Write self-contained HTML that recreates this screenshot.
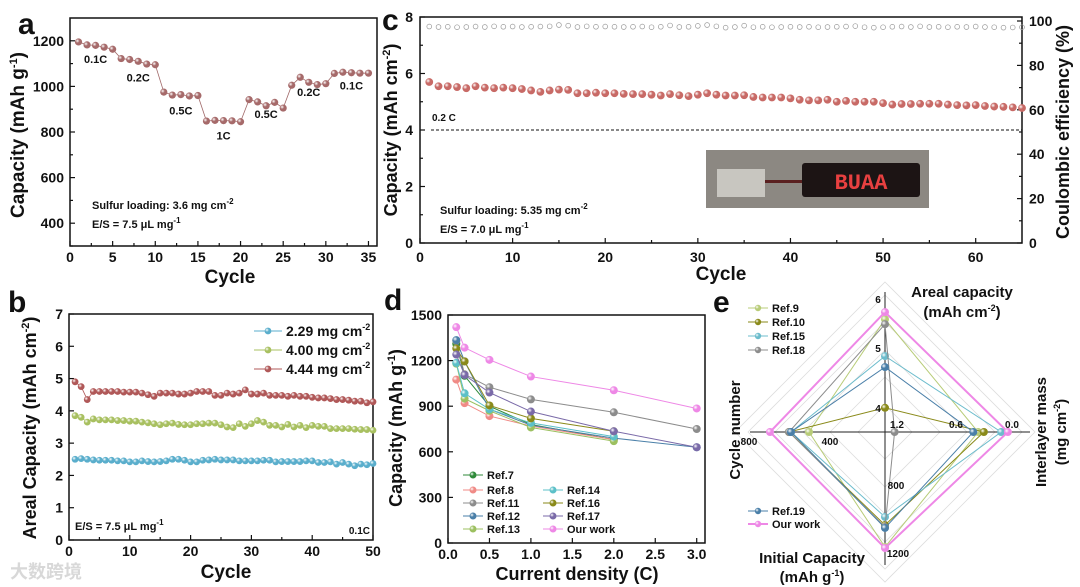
<!DOCTYPE html>
<html><head><meta charset="utf-8"><style>
body{margin:0;background:#fff}
svg{display:block;font-family:"Liberation Sans",Arial,sans-serif;font-weight:bold}
</style></head><body>
<svg id="fig" width="1080" height="587" viewBox="0 0 1080 587" xmlns="http://www.w3.org/2000/svg">
<defs></defs>
</svg>
<script>
var svgNS="http://www.w3.org/2000/svg";
var fig=document.getElementById('fig');
function mk(tag,attrs,parent){var e=document.createElementNS(svgNS,tag);for(var k in attrs)e.setAttribute(k,attrs[k]);(parent||fig).appendChild(e);return e;}
function txt(x,y,s,size,anchor,parent,rot){var t=mk('text',{x:x,y:y,'font-size':size,'text-anchor':anchor||'middle',fill:'#111'},parent);if(rot)t.setAttribute('transform','rotate('+rot+' '+x+' '+y+')');t.innerHTML=s;return t;}
var gradCount=0;
function grad(col){var id='g'+(gradCount++);var d=fig.querySelector('defs');var g=mk('radialGradient',{id:id,cx:'35%',cy:'35%',r:'65%'},d);mk('stop',{offset:'0','stop-color':'#ffffff'},g);mk('stop',{offset:'0.45','stop-color':col},g);mk('stop',{offset:'1','stop-color':col},g);return 'url(#'+id+')';}

/* ===== Panel a data ===== */
var aCycles=[];for(var i=1;i<=35;i++)aCycles.push(i);
var aCap=[1195,1182,1180,1172,1163,1122,1118,1110,1098,1095,975,962,964,958,960,848,851,850,849,845,942,932,915,930,905,1005,1040,1018,1008,1012,1057,1062,1060,1058,1058];
var aXTicks=[0,5,10,15,20,25,30,35];
var aYTicks=[400,600,800,1000,1200];
var aRates=['0.1C','0.2C','0.5C','1C','0.5C','0.2C','0.1C'];
var aRateCycle=[3,8,13,18,23,28,33];
var aRateCap=[1120,1040,895,785,880,975,1005];

/* ===== Panel b data ===== */
var bRed=[4.9,4.75,4.35,4.6,4.6,4.6,4.6,4.6,4.58,4.58,4.58,4.55,4.5,4.45,4.55,4.55,4.55,4.52,4.52,4.55,4.6,4.6,4.6,4.48,4.48,4.55,4.52,4.55,4.65,4.52,4.52,4.55,4.48,4.48,4.48,4.45,4.48,4.45,4.45,4.42,4.4,4.4,4.38,4.35,4.35,4.33,4.3,4.3,4.25,4.28];
var bGreen=[3.85,3.8,3.65,3.75,3.72,3.72,3.72,3.7,3.7,3.68,3.68,3.65,3.63,3.6,3.57,3.6,3.62,3.58,3.57,3.57,3.6,3.6,3.62,3.62,3.57,3.5,3.48,3.6,3.52,3.6,3.7,3.65,3.55,3.55,3.5,3.58,3.5,3.55,3.48,3.55,3.52,3.52,3.45,3.45,3.45,3.45,3.43,3.42,3.42,3.4];
var bBlue=[2.5,2.52,2.5,2.48,2.47,2.47,2.47,2.45,2.45,2.42,2.42,2.45,2.43,2.42,2.43,2.45,2.5,2.5,2.47,2.42,2.42,2.47,2.48,2.5,2.48,2.48,2.48,2.45,2.45,2.45,2.45,2.47,2.47,2.42,2.43,2.43,2.43,2.43,2.45,2.45,2.4,2.4,2.42,2.35,2.4,2.35,2.3,2.35,2.33,2.37];
var bXTicks=[0,10,20,30,40,50];
var bYTicks=[0,1,2,3,4,5,6,7];
var bLabels=['2.29 mg cm<tspan dy="-6" font-size="9">-2</tspan>','4.00 mg cm<tspan dy="-6" font-size="9">-2</tspan>','4.44 mg cm<tspan dy="-6" font-size="9">-2</tspan>'];

/* ===== Panel c data ===== */
var cCap=[5.7,5.55,5.55,5.52,5.48,5.55,5.5,5.48,5.5,5.48,5.45,5.4,5.35,5.4,5.43,5.42,5.3,5.3,5.32,5.3,5.3,5.28,5.27,5.27,5.25,5.22,5.27,5.23,5.2,5.25,5.3,5.25,5.22,5.22,5.23,5.17,5.15,5.15,5.15,5.12,5.07,5.05,5.05,5.07,5.0,5.03,5.0,5.0,5.0,4.95,4.9,4.92,4.92,4.93,4.93,4.93,4.9,4.88,4.87,4.88,4.85,4.83,4.82,4.8,4.78];
var cCE=[97.5,97.3,97.4,97.2,97.3,97.5,97.3,97.6,97.4,97.5,97.3,97.4,97.5,97.6,98.2,97.9,97.3,97.6,97.4,97.5,97.4,97.3,97.4,97.5,97.2,97.4,98.0,97.3,97.4,97.8,98.2,97.6,97.0,97.3,97.9,97.2,97.4,97.2,97.3,97.4,97.3,97.4,97.2,97.3,97.4,97.5,97.7,97.2,97.0,97.2,97.4,97.5,97.3,97.6,97.3,97.4,97.2,97.4,97.3,97.5,97.3,97.2,97.0,97.1,97.2];
var cXTicks=[0,10,20,30,40,50,60];
var cYTicks=[0,2,4,6,8];
var cY2Ticks=[0,20,40,60,80,100];

/* ===== Panel d data ===== */
var dRates=[0.1,0.2,0.5,1.0,2.0,3.0];
var dNames=['Ref.7','Ref.8','Ref.11','Ref.12','Ref.13','Ref.14','Ref.16','Ref.17','Our work'];
var dColors=['#2f8a3a','#f08a86','#8c8c8c','#4a7fa8','#9cc060','#5cc0c8','#8a8a1a','#7a6aa8','#ee88e6'];
var dRef7=[1310,1100,900,780,680];
var dRef8=[1075,920,835,770,680];
var dRef11=[1330,1110,1025,945,860,750];
var dRef12=[1335,1195,880,775,690,630];
var dRef13=[1180,950,870,760,670];
var dRef14=[1185,985,880,790,700];
var dRef16=[1280,1195,905,820,735];
var dRef17=[1240,1105,990,865,735,630];
var dOur=[1420,1285,1205,1095,1005,885];
var dXTicks=['0.0','0.5','1.0','1.5','2.0','2.5','3.0'];
var dYTicks=[0,300,600,900,1200,1500];

/* ===== Panel e data (areal cap, interlayer mass, initial cap, cycle number) ===== */
var eNames=['Ref.9','Ref.10','Ref.15','Ref.18','Ref.19','Our work'];
var eColors=['#b8cc78','#8a8a1a','#6cbccc','#8c8c8c','#4a7fa8','#ee88e6'];
var eAreal=[5.55,3.94,4.88,5.46,4.68,5.68];
var eMass=[0.35,0.29,0.11,1.22,0.40,0.04];
var eInit=[1144,1022,977,1033,1038,1150];
var eCycle=[510,610,600,610,600,705];

/* ===== helpers ===== */
function lin(d0,d1,r0,r1){return function(v){return r0+(v-d0)*(r1-r0)/(d1-d0);};}
function frame(x0,y0,x1,y1,name){var r=mk('rect',{x:x0,y:y0,width:x1-x0,height:y1-y0,fill:'none',stroke:'#111','stroke-width':1.5});}
function tickX(x,y,len){mk('line',{x1:x,y1:y,x2:x,y2:y-len,stroke:'#111','stroke-width':1.2});}
function tickY(x,y,len){mk('line',{x1:x,y1:y,x2:x+len,y2:y,stroke:'#111','stroke-width':1.2});}
function ball(x,y,r,fill,stroke){return mk('circle',{cx:x,cy:y,r:r,fill:fill,stroke:stroke||'none','stroke-width':0.5});}

/* ===== Panel a ===== */
(function(){
var X=lin(0,36,70,377),Y=lin(300,1300,246,18);
frame(70,18,377,246,'panel-a-plot-area');
var t=txt(18,34,'a',30,'start');
aXTicks.forEach(function(v){tickX(X(v),246,5);var l=txt(X(v),262,v,14);});
for(var v=2.5;v<36;v+=5)tickX(X(v),246,3);
aYTicks.forEach(function(v){tickY(70,Y(v),5);var l=txt(64,Y(v)+5,v,14,'end');});
for(var v=300;v<1300;v+=200)tickY(70,Y(v),3);
t=txt(230,283,'Cycle',19);
t=txt(24,135,'Capacity (mAh g<tspan dy="-7" font-size="11">-1</tspan><tspan dy="7">)</tspan>',19,'middle',null,-90);
var p=aCycles.map(function(c,i){return X(c)+','+Y(aCap[i]);}).join(' ');
var pl=mk('polyline',{points:p,fill:'none',stroke:'#a06868','stroke-width':0.8});
var f=grad('#a66a6a');
aCycles.forEach(function(c,i){var b=ball(X(c),Y(aCap[i]),3.6,f);});
aRates.forEach(function(r,i){var l=txt(X(aRateCycle[i]),Y(aRateCap[i])+4,r,11);});
t=txt(92,209,'Sulfur loading: 3.6 mg cm<tspan dy="-5" font-size="8">-2</tspan>',11,'start');
t=txt(92,228,'E/S = 7.5 μL mg<tspan dy="-5" font-size="8">-1</tspan>',11,'start');
})();

/* ===== Panel b ===== */
(function(){
var X=lin(0,50,69,373),Y=lin(0,7,540,314);
frame(69,314,373,540,'panel-b-plot-area');
var t=txt(8,312,'b',30,'start');
bXTicks.forEach(function(v){tickX(X(v),540,5);var l=txt(X(v),556,v,14);});
for(var v=5;v<50;v+=10)tickX(X(v),540,3);
bYTicks.forEach(function(v){tickY(69,Y(v),5);var l=txt(63,Y(v)+5,v,14,'end');});
t=txt(226,578,'Cycle',19);
t=txt(36,428,'Areal Capacity (mAh cm<tspan dy="-7" font-size="11">-2</tspan><tspan dy="7">)</tspan>',18,'middle',null,-90);
var sets=[bBlue,bGreen,bRed],cols=['#5aaecc','#a8c060','#b05858'],names=['b-series-2-29','b-series-4-00','b-series-4-44'];
sets.forEach(function(s,k){var f=grad(cols[k]);
var pl=mk('polyline',{points:s.map(function(v,i){return X(i+1)+','+Y(v);}).join(' '),fill:'none',stroke:cols[k],'stroke-width':0.8});
s.forEach(function(v,i){var b=ball(X(i+1),Y(v),3.4,f);});
var ly=331+k*19;mk('line',{x1:254,y1:ly,x2:282,y2:ly,stroke:cols[k],'stroke-width':1});var lb=ball(268,ly,3.4,f);
var lt=txt(286,ly+5,bLabels[k],14,'start');});
t=txt(75,530,'E/S = 7.5 μL mg<tspan dy="-5" font-size="8">-1</tspan>',11,'start');
t=txt(370,534,'0.1C',10,'end');
})();

/* ===== Panel c ===== */
(function(){
var X=lin(0,65,420,1022),Y=lin(0,8,243,17),Y2=lin(0,100,243,21);
frame(420,17,1022,243,'panel-c-plot-area');
var t=txt(382,30,'c',30,'start');
cXTicks.forEach(function(v){tickX(X(v),243,5);var l=txt(X(v),262,v,14);});
for(var v=5;v<65;v+=10)tickX(X(v),243,3);
cYTicks.forEach(function(v){tickY(420,Y(v),5);var l=txt(413,Y(v)+5,v,14,'end');});
for(var v=1;v<8;v+=2)tickY(420,Y(v),3);
cY2Ticks.forEach(function(v){tickY(1022,Y2(v),-5);var l=txt(1029,Y2(v)+5,v,14,'start');});
for(var v=10;v<100;v+=20)tickY(1022,Y2(v),-3);
t=txt(721,280,'Cycle',19);
t=txt(397,130,'Capacity (mAh cm<tspan dy="-7" font-size="11">-2</tspan><tspan dy="7">)</tspan>',18,'middle',null,-90);
t=txt(1069,132,'Coulombic efficiency (%)',18,'middle',null,-90);
var dl=mk('line',{x1:431,y1:Y(4),x2:1022,y2:Y(4),stroke:'#111','stroke-width':1,'stroke-dasharray':'3,2'});
t=txt(432,121,'0.2 C',10,'start');
var f=grad('#c86a66');
cCap.forEach(function(v,i){var b=ball(X(i+1),Y(v),3.9,f);});
cCE.forEach(function(v,i){var b=mk('circle',{cx:X(i+1),cy:Y2(v),r:2.4,fill:'none',stroke:'#999','stroke-width':0.7});});
var g=mk('g',{});
mk('rect',{x:706,y:150,width:223,height:58,fill:'#8c8882'},g);
mk('rect',{x:717,y:169,width:48,height:28,fill:'#c8c6c0'},g);
mk('rect',{x:765,y:180,width:38,height:3,fill:'#5a2020'},g);
mk('rect',{x:802,y:163,width:118,height:34,rx:3,fill:'#1c1414'},g);
var bt=txt(861,189,'BUAA',22,'middle',g);bt.setAttribute('fill','#e84040');bt.setAttribute('font-family','"Liberation Mono",monospace');
t=txt(440,214,'Sulfur loading: 5.35 mg cm<tspan dy="-5" font-size="8">-2</tspan>',11,'start');
t=txt(440,233,'E/S = 7.0 μL mg<tspan dy="-5" font-size="8">-1</tspan>',11,'start');
})();

/* ===== Panel d ===== */
(function(){
var X=lin(0,3.1,448,705),Y=lin(0,1500,543,315);
frame(448,315,705,543,'panel-d-plot-area');
var t=txt(384,310,'d',30,'start');
dXTicks.forEach(function(v){tickX(X(+v),543,5);var l=txt(X(+v),559,v,14);});
dYTicks.forEach(function(v){tickY(448,Y(v),5);var l=txt(442,Y(v)+5,v,14,'end');});
t=txt(577,580,'Current density (C)',18);
t=txt(402,428,'Capacity (mAh g<tspan dy="-7" font-size="11">-1</tspan><tspan dy="7">)</tspan>',18,'middle',null,-90);
var series=[dRef7,dRef8,dRef11,dRef12,dRef13,dRef14,dRef16,dRef17,dOur];
var legPos=[[463,475],[463,490],[463,503],[463,516],[463,529],[543,490],[543,503],[543,516],[543,529]];
series.forEach(function(s,k){var f=grad(dColors[k]);
var pl=mk('polyline',{points:s.map(function(v,i){return X(dRates[i])+','+Y(v);}).join(' '),fill:'none',stroke:dColors[k],'stroke-width':1});
s.forEach(function(v,i){var b=ball(X(dRates[i]),Y(v),4,f);});
var lx=legPos[k][0],ly=legPos[k][1];mk('line',{x1:lx,y1:ly,x2:lx+20,y2:ly,stroke:dColors[k],'stroke-width':1});var lb=ball(lx+10,ly,3.5,f);
var lt=txt(lx+24,ly+4,dNames[k],11,'start');});
})();

/* ===== Panel e (radar) ===== */
(function(){
var cx=885,cy=432;
var rTop=function(v){return (v-3.5)*55;},rRight=function(v){return (1.32-v)*96;},rBot=function(v){return (v-505)*0.18;},rLeft=function(v){return (v-130)*0.2;};
var t=txt(713,312,'e',30,'start');
[27,55,82,110,137,150].forEach(function(r){var d=mk('polygon',{points:cx+','+(cy-r)+' '+(cx+r)+','+cy+' '+cx+','+(cy+r)+' '+(cx-r)+','+cy,fill:'none',stroke:'#ddd','stroke-width':0.8});});
mk('line',{x1:750,y1:cy,x2:1030,y2:cy,stroke:'#222','stroke-width':1});
mk('line',{x1:cx,y1:292,x2:cx,y2:565,stroke:'#222','stroke-width':1});
eNames.forEach(function(n,k){var f=grad(eColors[k]);
var pts=[[cx,cy-rTop(eAreal[k])],[cx+rRight(eMass[k]),cy],[cx,cy+rBot(eInit[k])],[cx-rLeft(eCycle[k]),cy]];
var pg=mk('polygon',{points:pts.map(function(p){return p.join(',');}).join(' '),fill:'none',stroke:eColors[k],'stroke-width':k==5?2:1});
pts.forEach(function(p){var b=ball(p[0],p[1],4,f);});
var lx=748,ly=k<4?308+k*14:(k==4?511:524);mk('line',{x1:lx,y1:ly,x2:lx+20,y2:ly,stroke:eColors[k],'stroke-width':k==5?2:1});var lb=ball(lx+10,ly,3.2,f);
var lt=txt(lx+24,ly+4,n,11,'start');});
var labs=[[878,303,'6'],[878,352,'5'],[878,412,'4'],[897,428,'1.2'],[956,428,'0.6'],[1012,428,'0.0'],[749,445,'800'],[830,445,'400'],[896,489,'800'],[898,557,'1200']];
labs.forEach(function(l){var e=txt(l[0],l[1],l[2],10);});
t=txt(962,297,'Areal capacity',15);
t=txt(962,317,'(mAh cm<tspan dy="-6" font-size="9">-2</tspan><tspan dy="6">)</tspan>',15);
t=txt(1046,432,'Interlayer mass',15,'middle',null,-90);
t=txt(1066,432,'(mg cm<tspan dy="-6" font-size="9">-2</tspan><tspan dy="6">)</tspan>',15,'middle',null,-90);
t=txt(740,430,'Cycle number',15,'middle',null,-90);
t=txt(812,563,'Initial Capacity',15);
t=txt(812,582,'(mAh g<tspan dy="-6" font-size="9">-1</tspan><tspan dy="6">)</tspan>',15);
})();

/* watermark */
var w=txt(10,578,'大数跨境',18,'start');
w.setAttribute('fill','#d8d8d8');
w.setAttribute('font-family','"Noto Sans CJK SC",sans-serif');


</script>
</body></html>
